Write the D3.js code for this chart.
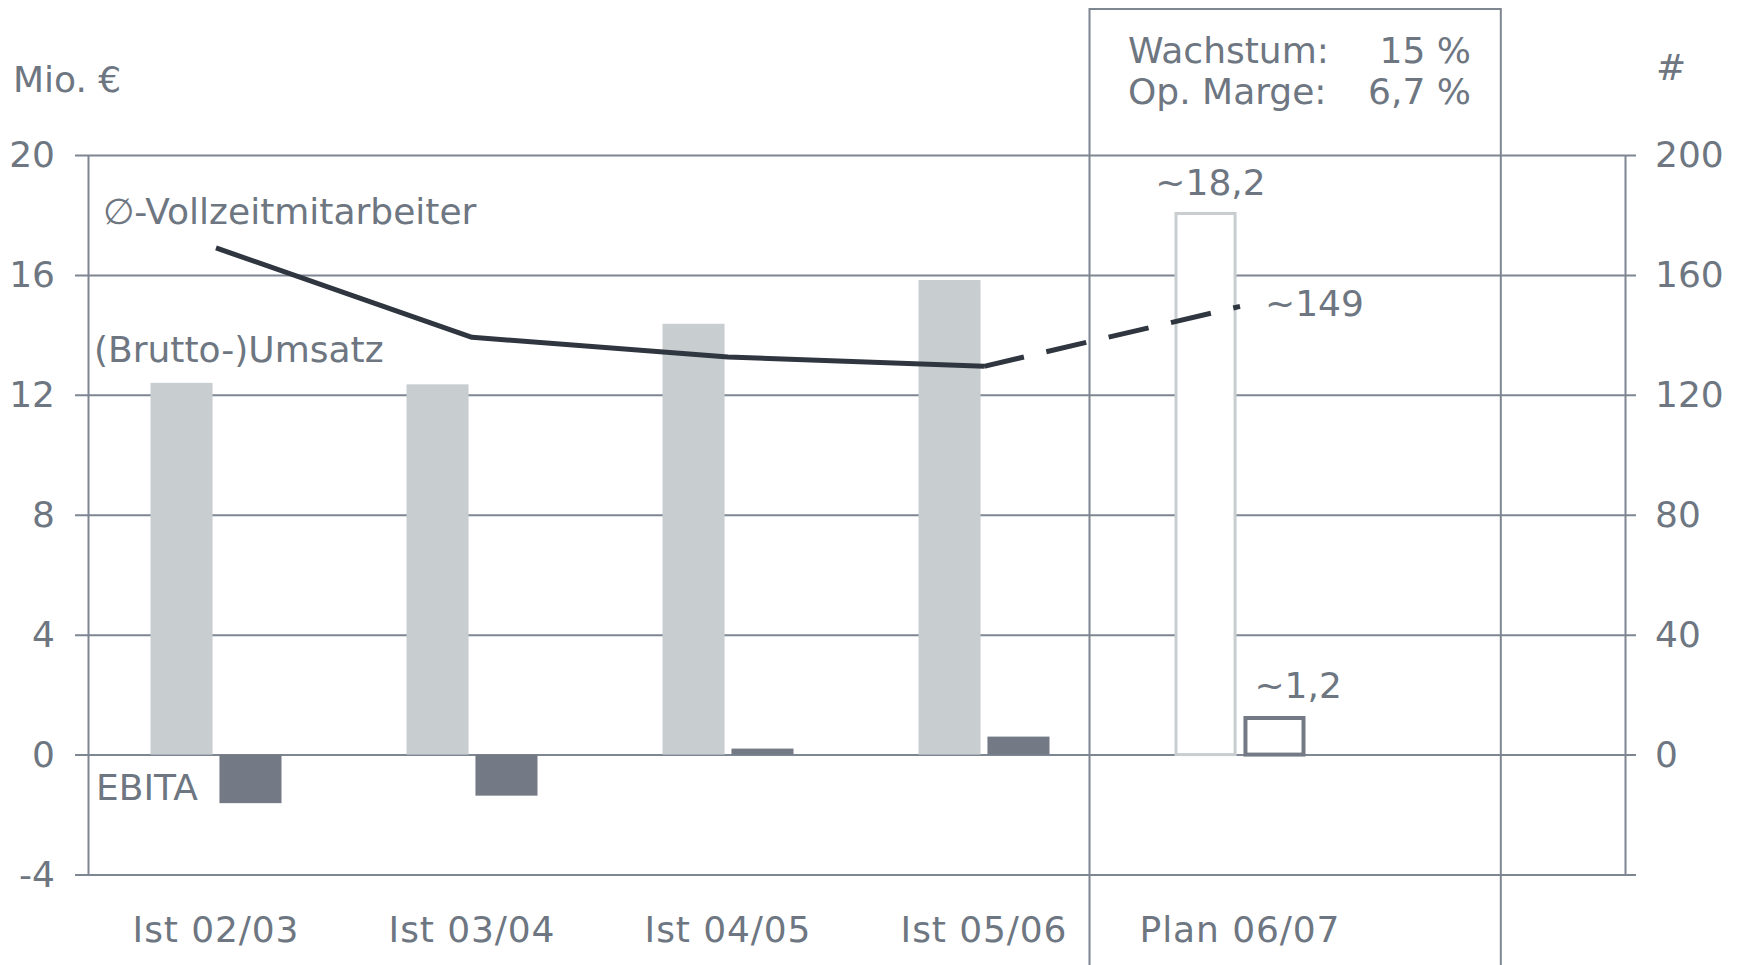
<!DOCTYPE html>
<html>
<head>
<meta charset="utf-8">
<script src="https://cdn.jsdelivr.net/npm/d3@7"></script>
<style>
  html, body { margin: 0; padding: 0; background: #fff; }
  svg { display: block; }
  text { font-family: "DejaVu Sans", Verdana, sans-serif; font-size: 36px; fill: #6d7681; }
  .xlab text { letter-spacing: 0.9px; }
</style>
</head>
<body>
<svg id="chart" width="1738" height="965"></svg>
<script>
// Werte
const categories = ['Ist 02/03', 'Ist 03/04', 'Ist 04/05', 'Ist 05/06', 'Plan 06/07'];
const umsatz = [12.4, 12.35, 14.37, 15.83, 18.05];
const ebita = [-1.62, -1.37, 0.2, 0.6, 1.22];
const mitarbeiter = [169, 139.2, 132.6, 129.5, 149.5];
const planFlags = [false, false, false, false, true];
const leftTicks = [-4, 0, 4, 8, 12, 16, 20];
const rightTicks = [0, 40, 80, 120, 160, 200];
const planLabels = { umsatz: '~18,2', ebita: '~1,2', mitarbeiter: '~149' };

const W = 1738, H = 965;
const plotLeft = 88, plotRight = 1625, plotTop = 155, plotBottom = 874.5;
const gridColor = '#7e8692';
const textColor = '#6d7681';
const umsatzColor = '#c8cdd0';
const ebitaColor = '#737a85';
const lineColor = '#2f3640';

const svg = d3.select('#chart');

const x = d3.scaleBand()
  .domain(categories)
  .range([plotLeft, plotLeft + 5 * 256])
  .paddingInner(0)
  .paddingOuter(0);

// Umsatz und EBITA nebeneinander, Paarbreite 131px um die Kategoriemitte
const pairW = 131;
const xs = d3.scaleBand()
  .domain(['umsatz', 'ebita'])
  .range([0, pairW])
  .paddingInner(0.1);

const y = d3.scaleLinear().domain([-4, 20]).range([plotBottom, plotTop]);
const yR = d3.scaleLinear().domain([-40, 200]).range([plotBottom, plotTop]);

const cx = c => x(c) + x.bandwidth() / 2;
const barX = (c, s) => cx(c) - pairW / 2 + xs(s);

// Planrahmen
svg.append('rect')
  .attr('x', 1089.5)
  .attr('y', 9)
  .attr('width', 1500.8 - 1089.5)
  .attr('height', H)
  .attr('fill', 'none')
  .attr('stroke', gridColor)
  .attr('stroke-width', 2);

// Gitterlinien (gehen links bis 75 und rechts bis 1636)
const grid = svg.append('g')
  .attr('transform', `translate(1636,0)`)
  .call(d3.axisLeft(y).tickValues(leftTicks).tickSize(1636 - 75).tickFormat(''));
grid.select('.domain').remove();
grid.selectAll('line').attr('stroke', gridColor).attr('stroke-width', 2);

// Balken
const bars = svg.append('g');
categories.forEach((c, i) => {
  const plan = planFlags[i];
  const u = umsatz[i];
  const e = ebita[i];
  if (plan) {
    bars.append('rect')
      .attr('x', barX(c, 'umsatz') + 1.5)
      .attr('y', y(u))
      .attr('width', xs.bandwidth() - 3)
      .attr('height', y(0) - y(u))
      .attr('fill', '#fff')
      .attr('stroke', umsatzColor)
      .attr('stroke-width', 3);
    bars.append('rect')
      .attr('x', barX(c, 'ebita') + 2)
      .attr('y', y(e))
      .attr('width', xs.bandwidth() - 4)
      .attr('height', y(0) - y(e))
      .attr('fill', '#fff')
      .attr('stroke', ebitaColor)
      .attr('stroke-width', 4);
  } else {
    bars.append('rect')
      .attr('x', barX(c, 'umsatz'))
      .attr('y', y(Math.max(0, u)))
      .attr('width', xs.bandwidth())
      .attr('height', Math.abs(y(0) - y(u)))
      .attr('fill', umsatzColor);
    bars.append('rect')
      .attr('x', barX(c, 'ebita'))
      .attr('y', y(Math.max(0, e)))
      .attr('width', xs.bandwidth())
      .attr('height', Math.abs(y(0) - y(e)))
      .attr('fill', ebitaColor);
  }
});

// Achsen (Bindestrich statt Minuszeichen wie im Original)
const yAxisL = svg.append('g')
  .attr('transform', `translate(${plotLeft},0)`)
  .call(d3.axisLeft(y).tickValues(leftTicks).tickFormat(d => String(d))
    .tickSize(0).tickSizeOuter(0).tickPadding(33));
const yAxisR = svg.append('g')
  .attr('transform', `translate(${plotRight},0)`)
  .call(d3.axisRight(yR).tickValues(rightTicks).tickSize(0).tickSizeOuter(0).tickPadding(30));
const xAxis = svg.append('g')
  .attr('class', 'xlab')
  .attr('transform', `translate(0,${plotBottom})`)
  .call(d3.axisBottom(x).tickSize(0).tickPadding(42));
xAxis.select('.domain').remove();

[yAxisL, yAxisR, xAxis].forEach(g => {
  g.attr('font-size', null).attr('font-family', null);
  g.selectAll('.domain').attr('stroke', gridColor).attr('stroke-width', 2);
  g.selectAll('text').attr('fill', textColor);
});

// Mitarbeiterlinie
const pts = categories.map((c, i) => [cx(c), yR(mitarbeiter[i])]);
const line = d3.line();
svg.append('path')
  .attr('d', line(pts.slice(0, 4)))
  .attr('fill', 'none')
  .attr('stroke', lineColor)
  .attr('stroke-width', 5)
  .attr('stroke-linejoin', 'round');
svg.append('path')
  .attr('d', line(pts.slice(3)))
  .attr('fill', 'none')
  .attr('stroke', lineColor)
  .attr('stroke-width', 5)
  .attr('stroke-dasharray', '41,23');

// Beschriftungen
const label = (t, px, py, anchor) => svg.append('text')
  .attr('x', px).attr('y', py)
  .attr('text-anchor', anchor || 'start')
  .text(t);

label('Mio. €', 13, 92);
label('#', 1656, 80);
label('Wachstum:', 1128, 63);
label('15 %', 1471, 63, 'end');
label('Op. Marge:', 1128, 104);
label('6,7 %', 1471, 104, 'end');
label('∅-Vollzeitmitarbeiter', 103, 224);
label('(Brutto-)Umsatz', 94, 362);
label('EBITA', 96, 800);

const plan = categories[4];
label(planLabels.umsatz, barX(plan, 'umsatz') + xs.bandwidth() / 2 + 5, y(umsatz[4]) - 18, 'middle');
label(planLabels.ebita, barX(plan, 'ebita') + 11, y(ebita[4]) - 20);
label(planLabels.mitarbeiter, pts[4][0] + 25, pts[4][1] + 10);
</script>
</body>
</html>
